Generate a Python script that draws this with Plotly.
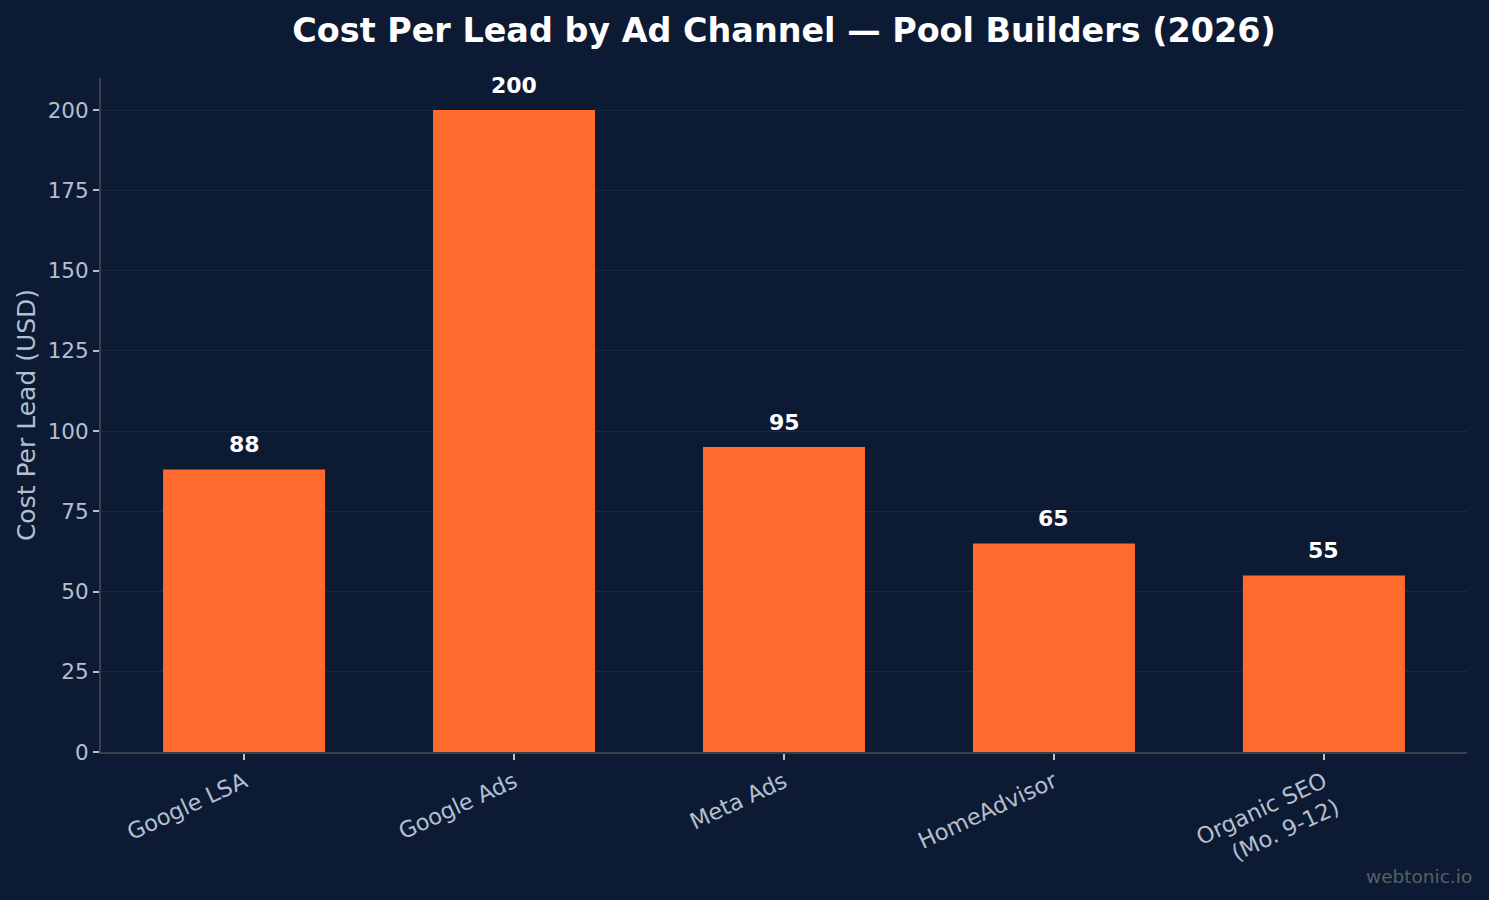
import plotly.graph_objects as go

categories = ["Google LSA", "Google Ads", "Meta Ads", "HomeAdvisor", "Organic SEO<br>(Mo. 9-12)"]
cost_per_lead = [88, 200, 95, 65, 55]
y_ticks = [0, 25, 50, 75, 100, 125, 150, 175, 200]

BG = "#0c1b33"
BAR = "#ff6b2c"
TICK = "#b4bfcf"
SPINE = "#3a3f48"
GRID = "#1a2840"
FONT = "DejaVu Sans"

x_idx = list(range(len(categories)))

fig = go.Figure()
fig.add_trace(go.Bar(
    x=x_idx, y=cost_per_lead, width=0.6,
    marker=dict(color=BAR, line=dict(width=0)),
    hoverinfo="skip",
))

for i, v in zip(x_idx, cost_per_lead):
    fig.add_annotation(x=i, y=v, text=f"<b>{v}</b>", showarrow=False,
                       yanchor="middle", yshift=25,
                       font=dict(family=FONT, size=22, color="#ffffff"))

fig.add_annotation(xref="paper", yref="paper", x=1.005, y=-0.185,
                   text="webtonic.io", showarrow=False, xanchor="right", yanchor="middle",
                   font=dict(family=FONT, size=18.5, color="#5a5f66"))

fig.update_layout(
    width=1489, height=900,
    paper_bgcolor=BG, plot_bgcolor=BG,
    margin=dict(l=101, r=22, t=78, b=148),
    showlegend=False,
    title=dict(text="<b>Cost Per Lead by Ad Channel — Pool Builders (2026)</b>",
               x=0.5, xref="paper", xanchor="center", y=1 - 30 / 900, yanchor="middle",
               font=dict(family=FONT, size=33.4, color="#ffffff")),
    font=dict(family=FONT, color=TICK),
)
fig.update_xaxes(
    range=[-0.53, 4.53], tickmode="array", tickvals=x_idx, ticktext=categories,
    tickangle=-25, tickfont=dict(family=FONT, size=22.5, color=TICK),
    ticks="outside", ticklen=6, tickwidth=1.5, tickcolor=TICK,
    showline=True, linecolor=SPINE, linewidth=2, showgrid=False, zeroline=False,
)
fig.update_yaxes(
    range=[0, 210], tickmode="array", tickvals=y_ticks,
    tickfont=dict(family=FONT, size=21.5, color=TICK),
    ticks="outside", ticklen=6, tickwidth=1.5, tickcolor=TICK,
    showline=True, linecolor=SPINE, linewidth=2,
    showgrid=True, gridcolor=GRID, gridwidth=1, zeroline=False,
    title=dict(text="Cost Per Lead (USD)", font=dict(family=FONT, size=25, color=TICK), standoff=5),
)

fig.write_html("out.html")
